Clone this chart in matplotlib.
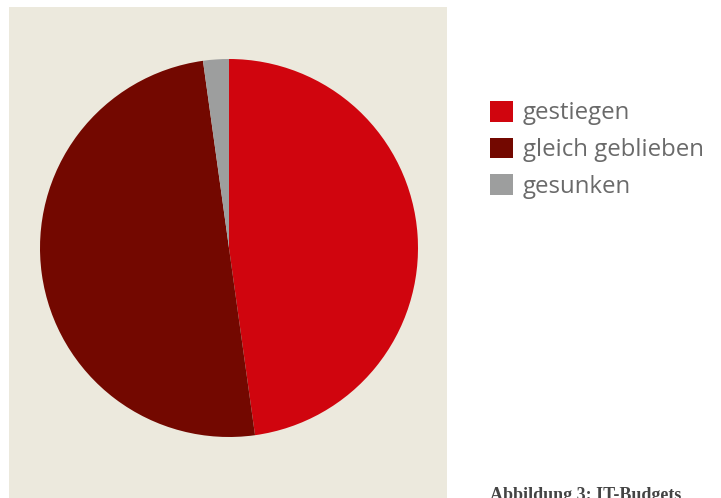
import matplotlib.pyplot as plt
import matplotlib.patches as patches

labels = ["gestiegen", "gleich geblieben", "gesunken"]
values = [47.8, 50.0, 2.2]
colors = ["#D0050E", "#730800", "#9D9E9E"]
caption = "Abbildung 3: IT-Budgets"

fig = plt.figure(figsize=(7.21, 4.98), dpi=100)

# beige panel behind the pie
fig.patches.append(
    patches.Rectangle(
        (9 / 721, 0), 438 / 721, 491 / 498,
        transform=fig.transFigure,
        facecolor="#ECE9DD",
        edgecolor="none",
        zorder=-5
    ))

ax = fig.add_axes([40 / 721, 61 / 498, 378 / 721, 378 / 498])
ax.set_zorder(2)
wedges, _ = ax.pie(values, colors=colors, startangle=90, counterclock=False,
                   radius=1, wedgeprops=dict(linewidth=0))
ax.set_xlim(-1, 1)
ax.set_ylim(-1, 1)
ax.set_aspect("equal")
ax.axis("off")

leg = fig.legend(wedges, labels,
                 loc="upper left",
                 bbox_to_anchor=(485 / 721, 1 - 96 / 498),
                 frameon=False,
                 prop=dict(family="Open Sans", size=17.3),
                 handlelength=0.96, handleheight=0.96,
                 handletextpad=0.42, labelspacing=0.5,
                 borderaxespad=0, borderpad=0.2)
for t in leg.get_texts():
    t.set_color("#6A6A6A")

fig.text(490 / 721, 1 - 487 / 498, caption, ha="left", va="top",
         family="Liberation Serif", weight="bold", size=13, color="#444444")

fig.savefig("out.png", dpi=100)
